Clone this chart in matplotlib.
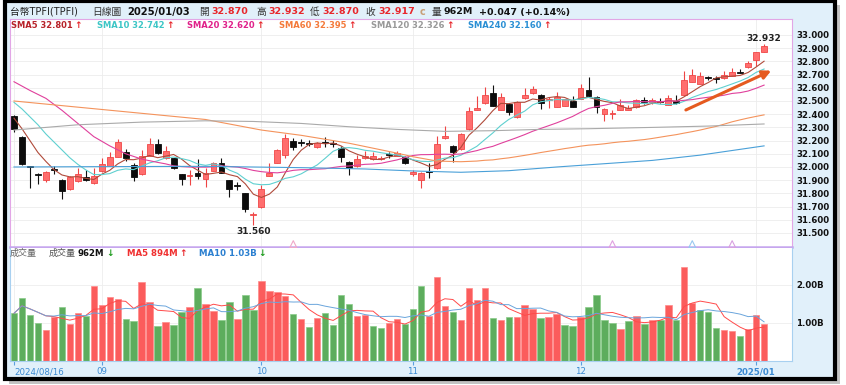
import numpy as np
import pandas as pd
import matplotlib
matplotlib.use('Agg')
import matplotlib.pyplot as plt
from matplotlib.patches import Rectangle
from matplotlib.text import Annotation

plt.rcParams['font.family'] = ['DejaVu Sans', 'Noto Sans CJK TC']

W, H = 846, 385

# ---- data (daily bars 2024/08/16 .. 2025/01/03) ----
month_idx = [0, 11, 31, 50, 71, 93]
month_labels = ['2024/08/16', '09', '10', '11', '12', '2025/01']

opens = [32.386, 32.225, 32.003, 31.945, 31.902, 31.985, 31.905, 31.831, 31.896, 31.922,
         31.876, 31.972, 32.010, 32.078, 32.110, 32.015, 31.947, 32.083, 32.175, 32.066,
         32.066, 31.944, 31.930, 31.952, 31.907, 31.972, 32.033, 31.902, 31.862, 31.800,
         31.640, 31.695, 31.934, 32.033, 32.090, 32.195, 32.186, 32.182, 32.149, 32.190,
         32.182, 32.142, 32.040, 32.008, 32.066, 32.058, 32.064, 32.093, 32.083, 32.074,
         31.944, 31.902, 31.968, 31.990, 32.217, 32.159, 32.134, 32.286, 32.432, 32.483,
         32.558, 32.432, 32.477, 32.377, 32.520, 32.558, 32.545, 32.510, 32.457, 32.464,
         32.503, 32.515, 32.583, 32.533, 32.402, 32.405, 32.432, 32.432, 32.452, 32.508,
         32.495, 32.500, 32.470, 32.503, 32.545, 32.646, 32.629, 32.674, 32.667, 32.672,
         32.689, 32.716, 32.755, 32.811, 32.870]
highs = [32.394, 32.232, 32.006, 31.952, 31.970, 32.010, 31.910, 31.932, 31.990, 31.977,
         31.990, 32.070, 32.115, 32.210, 32.140, 32.030, 32.130, 32.217, 32.210, 32.160,
         32.070, 31.950, 31.980, 32.058, 31.990, 32.040, 32.070, 31.905, 31.890, 31.800,
         31.661, 31.864, 32.033, 32.140, 32.248, 32.217, 32.210, 32.205, 32.190, 32.230,
         32.205, 32.160, 32.045, 32.090, 32.120, 32.110, 32.085, 32.110, 32.125, 32.085,
         31.975, 31.960, 32.028, 32.235, 32.310, 32.170, 32.260, 32.457, 32.535, 32.604,
         32.621, 32.560, 32.480, 32.500, 32.600, 32.610, 32.550, 32.530, 32.570, 32.518,
         32.540, 32.630, 32.680, 32.540, 32.445, 32.432, 32.513, 32.470, 32.515, 32.530,
         32.520, 32.520, 32.545, 32.545, 32.730, 32.740, 32.720, 32.690, 32.690, 32.730,
         32.750, 32.745, 32.805, 32.875, 32.932]
lows = [32.267, 32.015, 31.839, 31.871, 31.890, 31.950, 31.755, 31.828, 31.890, 31.895,
        31.874, 31.965, 32.005, 32.075, 32.048, 31.895, 31.940, 32.080, 32.100, 32.060,
        31.985, 31.864, 31.864, 31.910, 31.846, 31.970, 31.955, 31.775, 31.826, 31.661,
        31.560, 31.690, 31.930, 32.030, 32.070, 32.130, 32.160, 32.160, 32.145, 32.154,
        32.150, 32.040, 31.940, 32.000, 32.060, 32.050, 32.050, 32.070, 32.080, 32.020,
        31.935, 31.839, 31.914, 31.985, 32.215, 32.040, 32.130, 32.280, 32.430, 32.480,
        32.460, 32.430, 32.394, 32.375, 32.518, 32.556, 32.437, 32.450, 32.455, 32.462,
        32.455, 32.512, 32.535, 32.411, 32.351, 32.361, 32.430, 32.430, 32.450, 32.480,
        32.480, 32.485, 32.468, 32.480, 32.543, 32.644, 32.627, 32.660, 32.640, 32.670,
        32.687, 32.712, 32.753, 32.765, 32.870]
closes = [32.286, 32.023, 32.000, 31.939, 31.962, 31.980, 31.818, 31.927, 31.947, 31.898,
          31.934, 32.020, 32.075, 32.190, 32.066, 31.925, 32.083, 32.175, 32.104, 32.123,
          31.990, 31.907, 31.933, 31.930, 31.957, 32.033, 31.957, 31.831, 31.858, 31.679,
          31.645, 31.833, 31.957, 32.130, 32.217, 32.150, 32.183, 32.178, 32.185, 32.183,
          32.178, 32.074, 31.990, 32.058, 32.085, 32.082, 32.068, 32.090, 32.108, 32.033,
          31.964, 31.957, 31.965, 32.172, 32.235, 32.116, 32.250, 32.427, 32.445, 32.545,
          32.464, 32.528, 32.419, 32.495, 32.545, 32.589, 32.487, 32.513, 32.533, 32.513,
          32.457, 32.597, 32.538, 32.452, 32.440, 32.408, 32.470, 32.445, 32.508, 32.490,
          32.505, 32.495, 32.520, 32.483, 32.660, 32.694, 32.689, 32.672, 32.664, 32.697,
          32.720, 32.714, 32.786, 32.870, 32.917]
# volume in billions
volumes = [1.255, 1.65, 1.21, 1.01, 0.82, 1.15, 1.42, 0.98, 1.26, 1.18,
           1.97, 1.48, 1.68, 1.62, 1.10, 1.04, 2.07, 1.56, 0.91, 1.02,
           0.95, 1.29, 1.43, 1.92, 1.51, 1.32, 1.08, 1.55, 1.10, 1.75,
           1.34, 2.11, 1.83, 1.81, 1.72, 1.23, 1.11, 0.89, 1.12, 1.27,
           0.95, 1.74, 1.51, 1.19, 1.20, 0.92, 0.87, 0.99, 1.11, 0.97,
           1.38, 1.97, 1.18, 2.20, 1.46, 1.28, 1.08, 1.92, 1.60, 1.92,
           1.13, 1.07, 1.17, 1.15, 1.48, 1.37, 1.12, 1.17, 1.24, 0.94,
           0.92, 1.16, 1.42, 1.74, 1.08, 0.99, 0.85, 1.06, 1.18, 0.97,
           1.08, 1.08, 1.48, 1.08, 2.47, 1.52, 1.33, 1.30, 0.87, 0.81,
           0.80, 0.67, 0.83, 1.21, 0.962]

# moving-average values before enough bars are on screen
sma5_head = [32.37, 32.29, 32.20, 32.11]
sma10_head = [32.49, 32.44, 32.38, 32.32, 32.25, 32.19, 32.13, 32.07, 32.02]
sma20_head_idx = [0, 2, 4, 6, 8, 10, 12, 14, 16, 18]
sma20_head = [32.646, 32.58, 32.52, 32.43, 32.33, 32.23, 32.16, 32.10, 32.06, 32.035]
sma60_head_idx = [0, 12, 24, 31, 36, 42, 46, 48, 50, 53, 56, 58]
sma60_head = [32.50, 32.43, 32.36, 32.28, 32.24, 32.18, 32.13, 32.105, 32.078, 32.045, 32.04, 32.045]
sma120_idx = [0, 8, 16, 24, 30, 36, 42, 48, 54, 60, 66, 72, 80, 87, 94]
sma120_val = [32.28, 32.32, 32.34, 32.35, 32.345, 32.33, 32.305, 32.285, 32.27, 32.275,
              32.285, 32.29, 32.30, 32.31, 32.326]
sma240_idx = [0, 12, 24, 36, 44, 50, 56, 62, 68, 74, 80, 86, 94]
sma240_val = [32.0, 32.003, 32.005, 31.995, 31.985, 31.97, 31.96, 31.972, 32.0, 32.025,
              32.05, 32.09, 32.16]

event_idx = [35, 75, 85, 90]
event_colors = ['#f0a8c8', '#e0a0e0', '#98c8f0', '#d8a0e0']

# trend arrow drawn on the chart (bar index, price)
arrow_start = (84.2, 32.432)
arrow_end = (94.9, 32.730)

RED = '#e8262b'
C_SMA5, C_SMA10, C_SMA20 = '#b04a3a', '#5fd0d0', '#e0409c'
C_SMA60, C_SMA120, C_SMA240 = '#f4935c', '#aaaaaa', '#4aa0d8'


def fx(px):
    return px / W


def fy(py):
    return 1 - py / H


o = np.array(opens)
h = np.array(highs)
l = np.array(lows)
c = np.array(closes)
v = np.array(volumes)
n = len(c)
x = np.arange(n)
cs = pd.Series(c)

sma5 = np.concatenate([sma5_head, cs.rolling(5).mean().values[4:]])
sma10 = np.concatenate([sma10_head, cs.rolling(10).mean().values[9:]])
sma20_x = np.concatenate([sma20_head_idx, x[19:]])
sma20 = np.concatenate([sma20_head, cs.rolling(20).mean().values[19:]])
sma60_x = np.concatenate([sma60_head_idx, x[59:]])
sma60 = np.concatenate([sma60_head, cs.rolling(60).mean().values[59:]])

vs = pd.Series(v)
vma5 = vs.rolling(5, min_periods=1).mean().values
vma10 = vs.rolling(10, min_periods=1).mean().values

fig = plt.figure(figsize=(W / 100, H / 100), dpi=100, facecolor='white')

# frame, shadow and light blue background
fig.patches.append(Rectangle((fx(9), fy(384)), (840 - 9) / W, (384 - 5) / H,
                             transform=fig.transFigure, fc='#c4c4c4', ec='none', zorder=-3))
fig.patches.append(Rectangle((fx(5), fy(379)), (835 - 5) / W, (379 - 1) / H,
                             transform=fig.transFigure, fc='#e1f0fa', ec='black', lw=3, zorder=-2))

ax = fig.add_axes([fx(10), fy(247), (792 - 10) / W, (247 - 19) / H])
axv = fig.add_axes([fx(10), fy(361), (792 - 10) / W, (361 - 248) / H])

# ---- price panel ----
up = c >= o
wick_col = np.where(up, '#ee4444', '#111111')
face_col = np.where(up, '#ff6e6e', '#0c0c0c')
edge_col = np.where(up, '#f04848', '#0c0c0c')
ax.vlines(x, l, h, colors=wick_col, lw=0.8, zorder=2)
body_lo = np.minimum(o, c)
body_h = np.maximum(np.abs(c - o), 0.007)
ax.bar(x, body_h, bottom=body_lo, width=0.74, color=face_col, edgecolor=edge_col,
       linewidth=0.6, zorder=3)

ax.plot(x, sma5, color=C_SMA5, lw=0.8, zorder=4)
ax.plot(x, sma10, color=C_SMA10, lw=0.8, zorder=4)
ax.plot(sma20_x, sma20, color=C_SMA20, lw=0.8, zorder=4)
ax.plot(sma60_x, sma60, color=C_SMA60, lw=0.8, zorder=4)
ax.plot(sma120_idx, sma120_val, color=C_SMA120, lw=0.8, zorder=4)
ax.plot(sma240_idx, sma240_val, color=C_SMA240, lw=0.8, zorder=4)

ylo, yhi = 33 - (247 - 35) / 132, 33 + (35 - 19) / 132
ax.set_xlim(-0.5, 97.5)
ax.set_ylim(ylo, yhi)

imin, imax = int(np.argmin(l)), int(np.argmax(h))
ax.annotate(f'{l[imin]:.3f}', xy=(imin, l[imin]), xytext=(0, -1.5), textcoords='offset points',
            ha='center', va='top', fontsize=6.5, fontweight='bold', color='#222222')
ax.annotate(f'{h[imax]:.3f}', xy=(imax, h[imax]), xytext=(0, 1), textcoords='offset points',
            ha='center', va='bottom', fontsize=6.5, fontweight='bold', color='#222222')

ax.annotate('', xy=arrow_end, xytext=arrow_start,
            arrowprops=dict(arrowstyle='-|>,head_length=0.5,head_width=0.25',
                            color='#e55a1f', lw=2.2, shrinkA=0, shrinkB=0), zorder=6)

ax.scatter(event_idx, [ylo + 0.022] * len(event_idx), marker='^', s=24,
           facecolors='none', edgecolors=event_colors, linewidths=0.8, zorder=5, clip_on=False)

yt = np.round(np.arange(31.5, 33.0001, 0.1), 1)
ax.set_yticks(yt, labels=[f'{t:.3f}' for t in yt], fontsize=6.2, fontweight='bold')
ax.yaxis.tick_right()
ax.tick_params(axis='y', length=0, pad=3, labelcolor='#111111')
ax.set_xticks(month_idx)
ax.tick_params(axis='x', length=0, labelbottom=False)
ax.grid(True, color='#ececec', lw=0.6)
ax.set_axisbelow(True)
for s in ax.spines.values():
    s.set_color('#e2a6e6')
    s.set_linewidth(0.8)
ax.spines['bottom'].set_color('#c6a6ee')
ax.spines['bottom'].set_linewidth(1.8)

# ---- volume panel ----
vol_up = np.concatenate([[c[0] >= o[0]], c[1:] > c[:-1]])
vcol = np.where(vol_up, '#fb5c5c', '#5dad5d')
vedge = np.where(vol_up, '#ff8a8a', '#8acb8a')
axv.bar(x, v, width=0.8, color=vcol, edgecolor=vedge, linewidth=0.5, zorder=2)
axv.plot(x, vma5, color='#ff4a4a', lw=0.7, zorder=3)
axv.plot(x, vma10, color='#6aa5dc', lw=0.7, zorder=3)
axv.set_xlim(-0.5, 97.5)
axv.set_ylim(0, (361 - 248) / 38)
axv.set_yticks([1, 2], labels=['1.00B', '2.00B'], fontsize=6.2, fontweight='bold')
axv.yaxis.tick_right()
axv.tick_params(axis='y', length=0, pad=3, labelcolor='#111111')
axv.set_xticks(month_idx, labels=month_labels, fontsize=6.2)
axv.tick_params(axis='x', length=3, width=0.8, color='#5aa0e0', pad=1.5, labelcolor='#3b8ad2')
xl = axv.get_xticklabels()
xl[0].set_horizontalalignment('left')
xl[-1].set_fontweight('bold')
axv.grid(True, color='#eeeeee', lw=0.6)
axv.set_axisbelow(True)
axv.spines['top'].set_visible(False)
for k in ['left', 'right', 'bottom']:
    axv.spines[k].set_color('#a8d0f0')
    axv.spines[k].set_linewidth(0.8)


# ---- header texts ----
def put(xp, yp, s, color='#333333', size=7, weight='normal'):
    return fig.text(fx(xp), fy(yp), s, color=color, fontsize=size, fontweight=weight,
                    ha='left', va='center')


def after(t, s, color, size=6.5):
    fig.add_artist(Annotation(s, xy=(1, 0.5), xycoords=t, xytext=(1, 0),
                              textcoords='offset points', ha='left', va='center',
                              color=color, fontsize=size, fontweight='bold',
                              annotation_clip=False))


put(10, 12, '台幣TPFI(TPFI)', '#222222', 7)
put(92, 12, '日線圖', '#333333', 7)
put(127, 12, '2025/01/03', '#111111', 7.2, 'bold')
put(199, 12, '開', '#333333', 7)
put(211, 12, f'{opens[-1]:.3f}', RED, 6.8, 'bold')
put(256, 12, '高', '#333333', 7)
put(268, 12, f'{highs[-1]:.3f}', RED, 6.8, 'bold')
put(310, 12, '低', '#333333', 7)
put(322, 12, f'{lows[-1]:.3f}', RED, 6.8, 'bold')
put(365, 12, '收', '#333333', 7)
put(378, 12, f'{closes[-1]:.3f}', RED, 6.8, 'bold')
put(420, 12, 'c', '#c8a078', 7, 'bold')
put(432, 12, '量', '#333333', 7)
put(443, 12, f'{volumes[-1] * 1000:.0f}M', '#111111', 6.8, 'bold')
chg = closes[-1] - closes[-2]
put(479, 12, f'{chg:+.3f} ({chg / closes[-2] * 100:+.2f}%)', '#111111', 6.8, 'bold')

sma_labels = [(11, 'SMA5', sma5[-1], '#b8232a'), (97, 'SMA10', sma10[-1], '#3cc6c6'),
              (187, 'SMA20', sma20[-1], '#e0218a'), (279, 'SMA60', sma60[-1], '#f47a3a'),
              (371, 'SMA120', sma120_val[-1], '#999999'), (468, 'SMA240', sma240_val[-1], '#2a8fd4')]
for xp, name, val, col in sma_labels:
    t = put(xp, 25, f'{name} {val:.3f}', col, 6, 'bold')
    after(t, '↑', RED)

put(10, 253, '成交量', '#666666', 6.5)
put(49, 253, '成交量', '#555555', 6.5)
t = put(78, 253, f'{volumes[-1] * 1000:.0f}M', '#111111', 6.2, 'bold')
after(t, '↓', '#1a9a1a')
t = put(127, 253, f'MA5 {vma5[-1] * 1000:.0f}M', '#f03030', 6.2, 'bold')
after(t, '↑', RED)
t = put(199, 253, f'MA10 {vma10[-1]:.2f}B', '#2a7fd0', 6.2, 'bold')
after(t, '↓', '#1a9a1a')

fig.savefig('out.png', dpi=100, facecolor=fig.get_facecolor())
